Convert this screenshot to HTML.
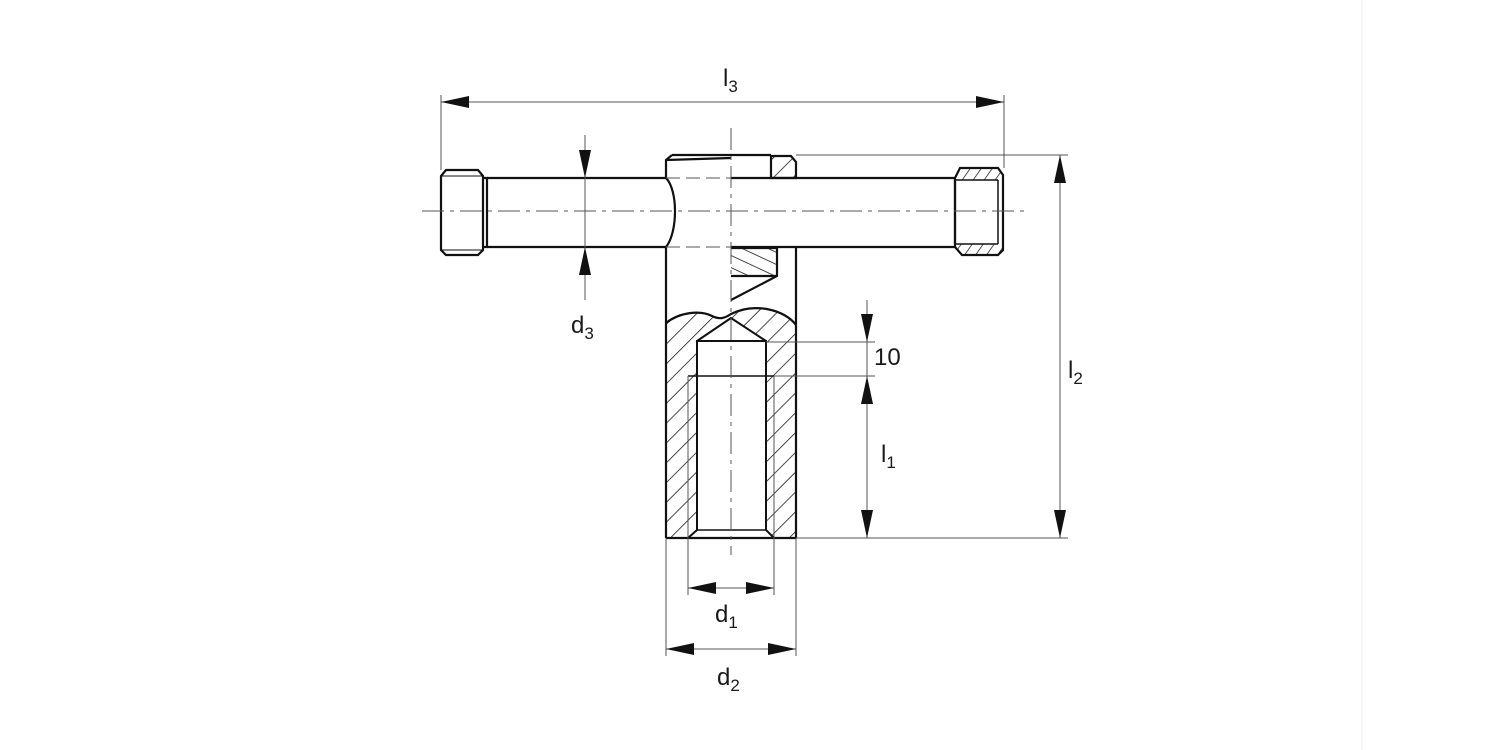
<!DOCTYPE html>
<html><head><style>html,body{margin:0;padding:0;background:#fff}svg{display:block}</style></head>
<body>
<svg width="1500" height="750" viewBox="0 0 1500 750" xmlns="http://www.w3.org/2000/svg" font-family="Liberation Sans, sans-serif">
<defs>
<pattern id="h" patternUnits="userSpaceOnUse" width="14" height="14" patternTransform="rotate(45)">
<line x1="0" y1="0" x2="0" y2="14" stroke="#1a1a1a" stroke-width="1.6"/>
</pattern>
<pattern id="h2" patternUnits="userSpaceOnUse" width="11" height="11" patternTransform="rotate(-65)">
<line x1="0" y1="0" x2="0" y2="11" stroke="#1a1a1a" stroke-width="1.6"/>
</pattern>
<pattern id="h3" patternUnits="userSpaceOnUse" width="9" height="9" patternTransform="rotate(35)">
<line x1="0" y1="0" x2="0" y2="9" stroke="#1a1a1a" stroke-width="1.5"/>
</pattern>
</defs>
<line x1="1362" y1="0" x2="1362" y2="750" stroke="#f0f0f0" stroke-width="1"/>

<path fill="url(#h)" fill-rule="evenodd" d="M666,323 C680,312 700,310 712,316 C720,320 725,318 731,314 C755,302 785,310 796,325 L796,538 L666,538 Z M697,341 L731,318 L766,341 L766,530 L774,538 L688,538 L697,530 Z"/>
<polygon fill="url(#h)" points="771,156 791,156 796,162 796,178 771,178"/>
<polygon fill="url(#h2)" points="731,248 777,248 777,276 731,276"/>
<polygon fill="url(#h3)" points="960,168 998,168 1003,175 1003,180 955,180"/>
<polygon fill="url(#h3)" points="955,244 1003,244 1003,250 998,255 962,255"/>

<g fill="none" stroke="#111" stroke-width="2.2">
<path d="M446,170 L478,170 L483,176 L483,250 L478,255 L446,255 L441,250 L441,176 Z"/>
<line x1="441" y1="176" x2="483" y2="176" stroke-width="1"/>
<line x1="441" y1="250" x2="483" y2="250" stroke-width="1"/>
<path d="M483,178 L487,178 L487,247 L483,247"/>
<line x1="487" y1="178" x2="666" y2="178"/>
<line x1="487" y1="247" x2="666" y2="247"/>
<line x1="731" y1="178" x2="955" y2="178"/>
<line x1="731" y1="247" x2="955" y2="247"/>
<path d="M955,178 L960,168 L998,168 L1003,175 L1003,250 L998,255 L962,255 L955,247 Z"/>
<line x1="955" y1="180" x2="955" y2="244"/>
<line x1="998" y1="180" x2="998" y2="244" stroke-width="1.5"/>
<line x1="955" y1="180" x2="998" y2="180" stroke-width="1.5"/>
<line x1="955" y1="244" x2="998" y2="244" stroke-width="1.5"/>
<path d="M672,155 L731,155 M666,160 L731,158"/>
<path d="M672,155 L666,160 L666,178 C678,190 678,232 666,247 L666,538"/>
<path d="M771,156 L791,156 L796,162 L796,178 L771,178 Z"/>
<line x1="731" y1="155" x2="771" y2="155"/>
<line x1="796" y1="247" x2="796" y2="538"/>
<path d="M731,248 L777,248 L777,276 L731,300"/>
<line x1="731" y1="276" x2="777" y2="276"/>
<path d="M666,323 C680,312 700,310 712,316 C720,320 725,318 731,314 C755,302 785,310 796,325"/>
<path d="M697,341 L731,318 L766,341 M697,341 L766,341 L766,530 L774,538 L688,538 L697,530 Z" stroke-width="2"/>
<line x1="697" y1="530" x2="766" y2="530" stroke-width="1.5"/>
<line x1="666" y1="538" x2="796" y2="538"/>
<line x1="688" y1="376" x2="774" y2="376" stroke-width="1.5"/>
</g>
<g stroke="#555" stroke-width="1" fill="none">
<line x1="688" y1="376" x2="688" y2="595"/>
<line x1="774" y1="376" x2="774" y2="595"/>
<line x1="666" y1="538" x2="666" y2="656"/>
<line x1="796" y1="538" x2="796" y2="656"/>
<line x1="688" y1="588" x2="774" y2="588"/>
<line x1="666" y1="649" x2="796" y2="649"/>
<line x1="441" y1="95" x2="441" y2="170"/>
<line x1="1004" y1="95" x2="1004" y2="168"/>
<line x1="441" y1="102" x2="1004" y2="102"/>
<line x1="796" y1="155" x2="1068" y2="155"/>
<line x1="796" y1="538" x2="1068" y2="538"/>
<line x1="1060" y1="155" x2="1060" y2="538"/>
<line x1="766" y1="342" x2="875" y2="342"/>
<line x1="774" y1="376" x2="875" y2="376"/>
<line x1="867" y1="300" x2="867" y2="538"/>
<line x1="585" y1="135" x2="585" y2="300"/>
<line x1="422" y1="211" x2="1025" y2="211" stroke-dasharray="22,6,4,6"/>
<line x1="731" y1="128" x2="731" y2="555" stroke-dasharray="22,6,4,6"/>
<line x1="666" y1="178" x2="731" y2="178" stroke-dasharray="14,6"/>
<line x1="666" y1="247" x2="731" y2="247" stroke-dasharray="14,6"/>
</g>
<g fill="#111">
<polygon points="441,102 469,96 469,108"/>
<polygon points="1004,102 976,96 976,108"/>
<polygon points="1060,155 1054,183 1066,183"/>
<polygon points="1060,538 1054,510 1066,510"/>
<polygon points="585,178 579,150 591,150"/>
<polygon points="585,247 579,275 591,275"/>
<polygon points="867,342 861,314 873,314"/>
<polygon points="867,376 861,404 873,404"/>
<polygon points="867,538 861,510 873,510"/>
<polygon points="688,588 716,582 716,594"/>
<polygon points="774,588 746,582 746,594"/>
<polygon points="666,649 694,643 694,655"/>
<polygon points="796,649 768,643 768,655"/>
</g>
<g fill="#1a1a1a" font-size="24">
<text x="723" y="86">l<tspan font-size="17" dy="6">3</tspan></text>
<text x="1068" y="378">l<tspan font-size="17" dy="6">2</tspan></text>
<text x="881" y="462">l<tspan font-size="17" dy="6">1</tspan></text>
<text x="874" y="365">10</text>
<text x="571" y="333">d<tspan font-size="17" dy="6">3</tspan></text>
<text x="715" y="622">d<tspan font-size="17" dy="6">1</tspan></text>
<text x="717" y="685">d<tspan font-size="17" dy="6">2</tspan></text>
</g>
</svg>
</body></html>
